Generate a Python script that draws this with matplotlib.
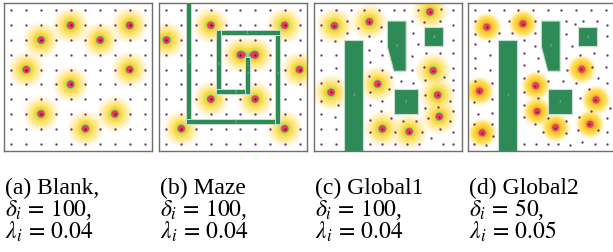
import numpy as np
import matplotlib
matplotlib.use("Agg")
import matplotlib.pyplot as plt
from matplotlib.colors import LinearSegmentedColormap
from matplotlib.patches import Rectangle, Polygon

plt.rcParams['mathtext.fontset'] = 'stix'
plt.rcParams['font.family'] = ['Liberation Serif', 'DejaVu Serif']

# ---------------- data (0..100 field, y measured downward) ----------------
grid_ticks = [5, 15, 25, 35, 45, 55, 65, 75, 85, 95]

blank_hx = [45, 85, 25, 65, 15, 85, 45, 25, 75, 55]
blank_hy = [15, 15, 25, 25, 45, 45, 55, 75, 75, 85]

maze_hx = [35, 85, 5, 55, 65, 95, 35, 65, 15, 85]
maze_hy = [15, 15, 25, 35, 35, 45, 65, 65, 85, 85]

# maze walls: (x0, y0, x1, y1) centre lines
maze_walls = [(20, 0, 20, 80), (20, 80, 80, 80), (80, 20, 80, 80), (40, 20, 80, 20),
              (40, 20, 40, 60), (40, 60, 60, 60), (60, 38, 60, 60)]
maze_labels = [("1", 20, 39.4), ("4", 59.2, 19.6), ("6", 40.3, 40.5), ("7", 60.2, 47.3),
               ("3", 80.2, 47.3), ("8", 51.8, 59.6), ("2", 51.8, 79.8)]

g1_hx = [78.4, 13.7, 37.4, 80.6, 43.0, 11.5, 83.6, 84.7, 46.2, 64.4]
g1_hy = [5.9, 15.3, 12.6, 45.7, 54.7, 60.4, 62.2, 76.8, 85.1, 87.0]
g1_dx = [5, 15, 25, 34, 44, 54, 61, 70, 86, 94,
         5, 22, 30, 45, 66, 74, 85, 94, 22, 67,
         5, 14, 37, 45, 70, 94, 5, 15, 37, 46, 66, 76, 85, 94, 38,
         5, 15, 46, 66, 74, 94, 37, 52,
         5, 16, 59, 67, 75, 88, 94, 38, 51, 75, 94,
         5, 16, 46, 38, 92, 45, 75, 84, 94,
         5, 14, 52, 60, 69, 77, 92, 38,
         5, 15, 38, 55, 73, 85, 94, 79,
         5, 15, 38, 46, 55, 63, 71, 87, 94]
g1_dy = [5, 5, 5, 5, 5, 5, 5, 5, 4, 5,
         15, 12, 17, 16, 12, 13, 12, 15, 20, 20,
         25, 26, 22, 26, 28, 25, 35, 35, 32, 35, 36, 34, 34, 34, 40,
         45, 44, 45, 45, 43, 44, 49, 50,
         54, 53, 53, 54, 52, 50, 52, 60, 58, 62, 59,
         66, 69, 66, 69, 66, 73, 71, 70, 73,
         75, 77, 78, 80, 80, 78, 80, 79,
         85, 85, 87, 87, 87, 85, 87, 91,
         95, 95, 95, 95, 95, 95, 95, 95, 95]

g2_hx = [12.6, 36.9, 76.4, 45.5, 7.7, 86.0, 46.4, 82.0, 58.8, 9.5]
g2_hy = [16.2, 14.0, 44.8, 55.9, 59.5, 65.5, 73.4, 82.0, 84.2, 87.8]
g2_dx = [5, 14, 24, 34, 44, 54, 63, 73, 83, 93,
         5, 5, 21, 28, 45, 45, 30, 66, 72, 78, 87, 94, 66, 94,
         5, 14, 38, 45, 70, 85, 94,
         5, 15, 38, 47, 66, 76,
         5, 15, 38, 67, 84, 93, 47,
         5, 16, 38, 54, 64, 73, 88, 94,
         4, 16, 38, 47, 76, 82,
         7, 16, 38, 54, 66, 75, 83, 94, 96,
         4, 16, 38, 45, 51, 66, 74, 88, 94, 17,
         4, 12, 38, 46, 54, 61, 69, 77, 86, 94]
g2_dy = [5, 5, 5, 5, 5, 5, 5, 5, 5, 5,
         12, 21, 20, 12, 12, 20, 20, 12, 14, 12, 12, 15, 21, 22,
         28, 26, 25, 29, 29, 34, 35,
         37, 35, 34, 37, 37, 35,
         44, 45, 42, 45, 43, 43, 46,
         53, 54, 51, 53, 53, 54, 51, 54,
         67, 65, 60, 64, 64, 58,
         75, 74, 69, 78, 80, 77, 73, 78, 71,
         82, 82, 77, 82, 87, 88, 86, 86, 87, 90,
         95, 96, 95, 95, 95, 95, 96, 94, 95, 95]

# global-map obstacles (polygons)
obst_tall = [(20.5, 25), (33.2, 25), (33.2, 101), (20.5, 101)]
obst_trap = [(49.6, 12.2), (62.3, 12.2), (62.3, 46.1), (53.9, 46.1), (49.6, 29.7)]
obst_small = [(74.5, 16.2), (87.2, 16.2), (87.2, 29.1), (74.5, 29.1)]
obst_mid = [(53.8, 58.1), (70.6, 58.1), (70.6, 75.0), (53.8, 75.0)]
obst_labels = [("1", 27.0, 61.5), ("2", 55.9, 28.4), ("4", 81.0, 22.3), ("3", 62.4, 66.3)]

captions = [
    ("(a) Blank,", r"$\delta_i\,=\,100$,", r"$\lambda_i\,=\,0.04$"),
    ("(b) Maze", r"$\delta_i\,=\,100$,", r"$\lambda_i\,=\,0.04$"),
    ("(c) Global1", r"$\delta_i\,=\,100$,", r"$\lambda_i\,=\,0.04$"),
    ("(d) Global2", r"$\delta_i\,=\,50$,", r"$\lambda_i\,=\,0.05$"),
]
lambdas = [0.04, 0.04, 0.04, 0.05]

# ---------------- styling ----------------
W, H = 613, 253
fig = plt.figure(figsize=(W / 100, H / 100), dpi=100)
panel_left_px = [4, 159, 314, 468]
caption_x_px = [5, 160, 315, 469]
top_px, size_px = 4, 148

cm_main = LinearSegmentedColormap.from_list("heat_a", [
    (0.0, "#ffffff"), (0.0006, "#fffdf3"), (0.003, "#fff9e0"), (0.02, "#fff3c4"),
    (0.10, "#ffea92"), (0.30, "#ffe062"), (0.50, "#fcd42c"), (0.62, "#f0da30"),
    (0.66, "#8aea88"), (0.76, "#70e49a"), (0.78, "#f03c50"), (1.0, "#ee3a4e")])
cm_d = LinearSegmentedColormap.from_list("heat_d", [
    (0.0, "#ffffff"), (0.01, "#fffbe6"), (0.03, "#fff0b0"), (0.06, "#ffe680"),
    (0.15, "#fedc50"), (0.35, "#fcd030"), (0.60, "#f8b830"), (0.68, "#f39a3a"),
    (0.72, "#8ae08c"), (0.76, "#f03c50"), (1.0, "#ee3a4e")])

seagreen = "#2e8b57"
edge_light = "#c9ddd0"
dot_color = "#74307e"

xs = np.linspace(0, 100, 500)
X, Y = np.meshgrid(xs, xs)


def heat(ax, hx, hy, lam, cmap):
    F = np.zeros_like(X)
    for x, y in zip(hx, hy):
        F += np.exp(-lam * ((X - x) ** 2 + (Y - y) ** 2))
    ax.imshow(np.clip(F, 0, 1), extent=[0, 100, 100, 0], cmap=cmap, vmin=0, vmax=1,
              interpolation="bilinear", zorder=0)


def dots(ax, dx, dy, hx, hy):
    ax.plot(dx, dy, "o", ms=1.7, mew=0, color=dot_color, zorder=2)
    ax.plot(hx, hy, "o", ms=1.4, mew=0, color="#7a1030", zorder=2)


axes = []
for i in range(4):
    l = panel_left_px[i] / W
    b = 1 - (top_px + size_px) / H
    ax = fig.add_axes([l, b, size_px / W, size_px / H])
    ax.set_xlim(0, 100)
    ax.set_ylim(100, 0)
    ax.set_xticks([])
    ax.set_yticks([])
    for s in ax.spines.values():
        s.set_color("#6e6e6e")
        s.set_linewidth(1.0)
        s.set_zorder(10)
    axes.append(ax)

gx, gy = np.meshgrid(grid_ticks, grid_ticks)

# (a) blank
heat(axes[0], blank_hx, blank_hy, lambdas[0], cm_main)
dots(axes[0], gx.ravel(), gy.ravel(), blank_hx, blank_hy)

# (b) maze
heat(axes[1], maze_hx, maze_hy, lambdas[1], cm_main)
dots(axes[1], gx.ravel(), gy.ravel(), maze_hx, maze_hy)
hw = 1.65
for (x0, y0, x1, y1) in maze_walls:
    rx0, rx1 = min(x0, x1) - hw, max(x0, x1) + hw
    ry0, ry1 = min(y0, y1) - hw, max(y0, y1) + hw
    if y0 == 0:
        ry0 = -2
    axes[1].add_patch(Rectangle((rx0, ry0), rx1 - rx0, ry1 - ry0, facecolor=seagreen,
                                edgecolor=edge_light, lw=0.7, zorder=3))
for t, x, y in maze_labels:
    axes[1].text(x, y, t, fontsize=3.2, color="#a9c9b4", ha="center", va="center", zorder=4)

# (c), (d) global maps
for k, (hx, hy, dx, dy, cmap) in enumerate([(g1_hx, g1_hy, g1_dx, g1_dy, cm_main),
                                            (g2_hx, g2_hy, g2_dx, g2_dy, cm_d)]):
    ax = axes[2 + k]
    heat(ax, hx, hy, lambdas[2 + k], cmap)
    dots(ax, dx, dy, hx, hy)
    for poly in (obst_tall, obst_trap, obst_small, obst_mid):
        ax.add_patch(Polygon(poly, closed=True, facecolor=seagreen, edgecolor=edge_light,
                             lw=0.8, zorder=3))
    for t, x, y in obst_labels:
        ax.text(x, y, t, fontsize=3.2, color="#a9c9b4", ha="center", va="center", zorder=4)

# captions
baselines = [194, 216, 239]
for i, lines in enumerate(captions):
    for j, line in enumerate(lines):
        fig.text(caption_x_px[i] / W, 1 - baselines[j] / H, line, fontsize=17,
                 ha="left", va="baseline", color="black")

fig.savefig("out.png", dpi=100)
